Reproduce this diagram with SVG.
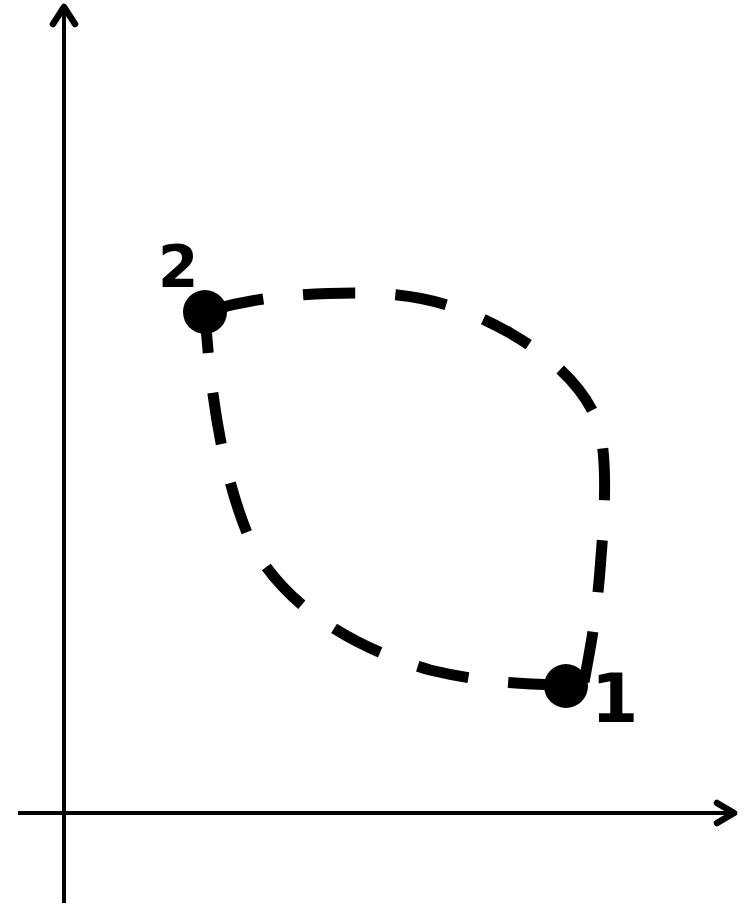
<svg xmlns="http://www.w3.org/2000/svg" width="748" height="903" viewBox="0 0 748 903">
<style>
.axis{stroke:#000;stroke-width:4;fill:none}
.head{stroke:#000;stroke-width:6.5;fill:none;stroke-linecap:round;stroke-linejoin:round}
.curve{stroke:#000;stroke-width:11;fill:none;stroke-dasharray:52 40;stroke-linecap:butt}
.dot{fill:#000}
.lbl{font-family:"DejaVu Sans",sans-serif;font-weight:bold;fill:#000}
</style>
<rect width="748" height="903" fill="#fff"/>
<g id="axes">
<line class="axis" x1="64" y1="903" x2="64" y2="8"/>
<polyline class="head" points="53,24 64,7 75,24"/>
<line class="axis" x1="18" y1="813" x2="733" y2="813"/>
<polyline class="head" points="717,803 734,813 717,823"/>
</g>
<g id="connectors">
<path class="curve" d="M205,312 C250,298 300,293 357,293 C420,293 460,305 510,333 C560,362 590,395 600,430 C608,470 604,520 600,570 C596,620 590,650 584,682" stroke-dashoffset="-8"/>
<path class="curve" d="M566,685 C520,684 480,682 430,670 C360,650 290,612 252,545 C228,490 212,420 205,312" stroke-dashoffset="-6"/>
</g>
<g id="node2">
<circle class="dot" cx="205" cy="312" r="22"/>
<text class="lbl" x="158" y="287" font-size="58">2</text>
</g>
<g id="node1">
<circle class="dot" cx="566" cy="686" r="22"/>
<text class="lbl" x="591" y="722" font-size="68">1</text>
</g>
</svg>
